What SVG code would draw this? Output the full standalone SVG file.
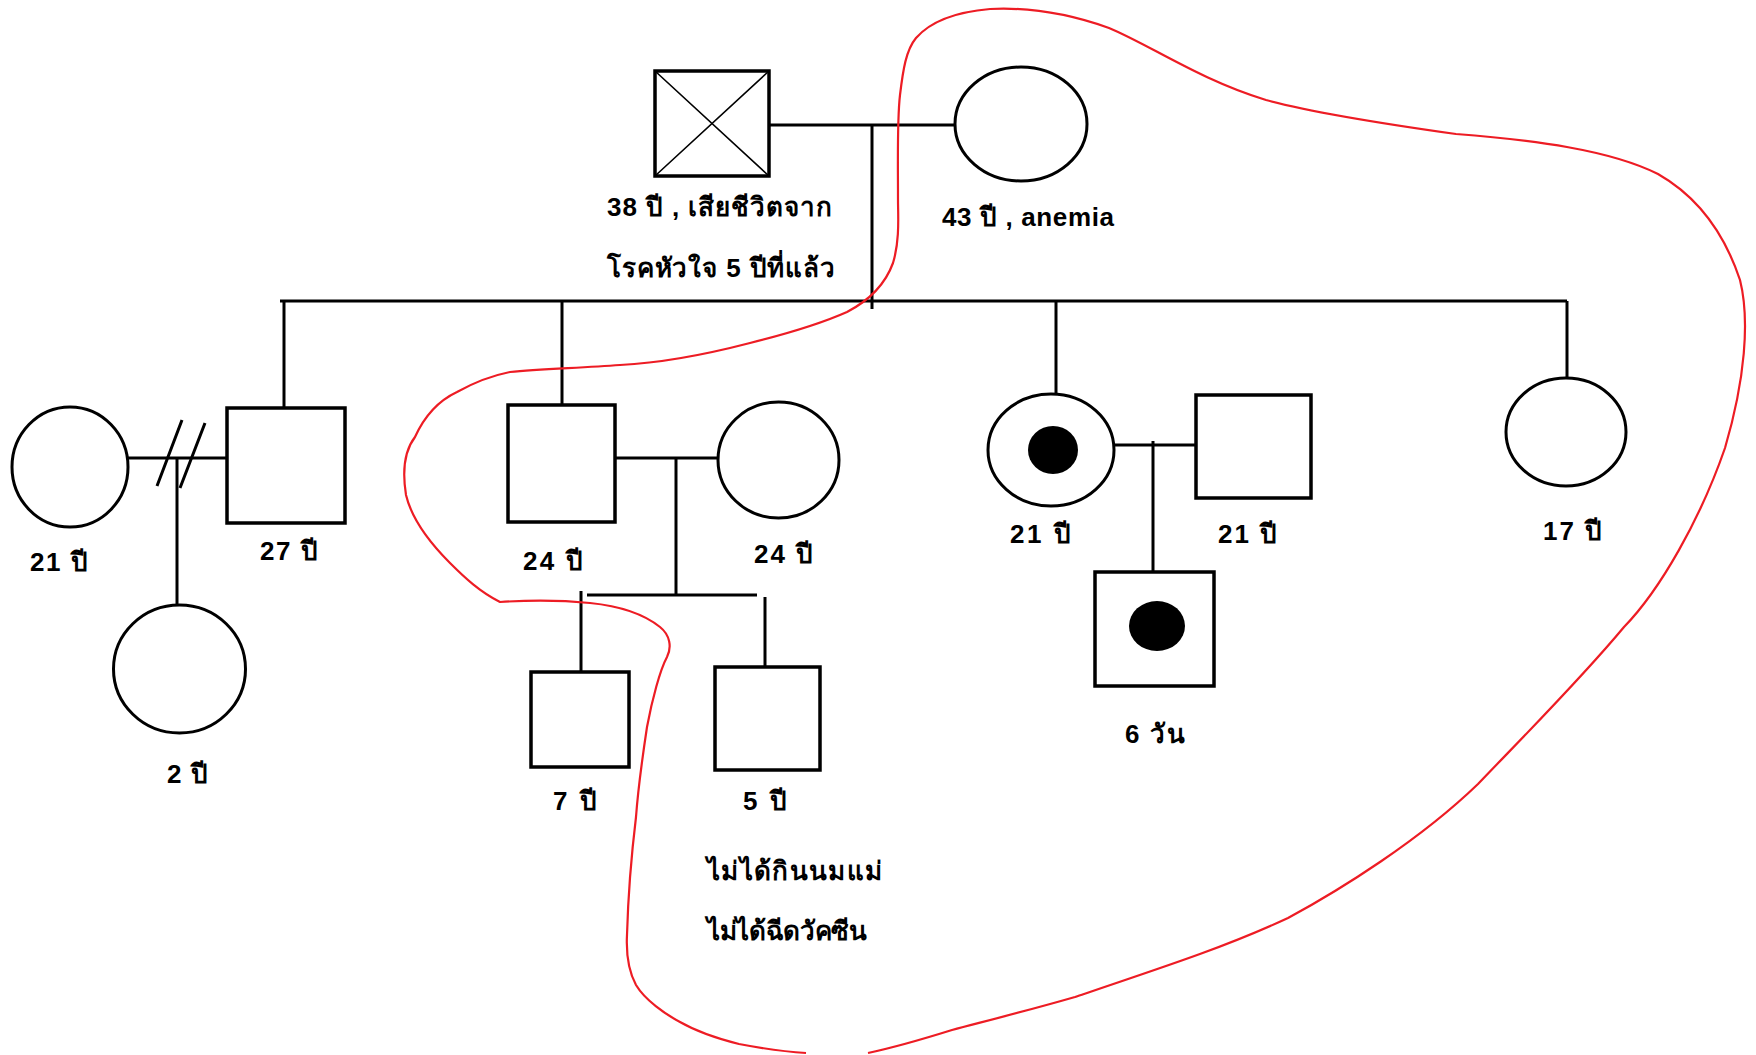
<svg xmlns="http://www.w3.org/2000/svg" width="1756" height="1055" viewBox="0 0 1756 1055">
<style>
.ln{stroke:#000;stroke-width:3;fill:none}
.sq{stroke:#000;stroke-width:3.5;fill:#fff}
.ci{stroke:#000;stroke-width:3;fill:#fff}
.dot{fill:#000}
.t{font-family:"Liberation Sans","Noto Sans","DejaVu Sans",sans-serif;font-size:26px;font-weight:bold;fill:#000}
.red{stroke:#ed1c24;stroke-width:2.2;fill:none}
</style>
<rect width="1756" height="1055" fill="#fff"/>
<g id="connectors">
<path class="ln" d="M769 125H955"/>
<path class="ln" d="M872 125V309"/>
<path class="ln" d="M280 301H1567"/>
<path class="ln" d="M284 301V408"/>
<path class="ln" d="M562 301V405"/>
<path class="ln" d="M1056 301V403"/>
<path class="ln" d="M1567 301V386"/>
<path class="ln" d="M128 458H227"/>
<path class="ln" d="M157 486L182 420M180 488L205 423"/>
<path class="ln" d="M177 458V613"/>
<path class="ln" d="M615 458H718"/>
<path class="ln" d="M676 458V595"/>
<path class="ln" d="M587 595H757"/>
<path class="ln" d="M581 591V672"/>
<path class="ln" d="M765 597V667"/>
<path class="ln" d="M1115 445H1200"/>
<path class="ln" d="M1153 441V572"/>
</g>
<g id="father">
<rect class="sq" x="655" y="71" width="114" height="105"/>
<path d="M655 71L769 176M769 71L655 176" stroke="#000" stroke-width="1.6"/>
<text class="t" x="607" y="216" textLength="225">38 ปี , เสียชีวิตจาก</text>
<text class="t" x="607" y="277" textLength="228">โรคหัวใจ 5 ปีที่แล้ว</text>
</g>
<g id="mother">
<ellipse class="ci" cx="1021" cy="124" rx="66" ry="57"/>
<text class="t" x="942" y="226" textLength="172">43 ปี , anemia</text>
</g>
<g id="exwife">
<ellipse class="ci" cx="70" cy="467" rx="58" ry="60"/>
<text class="t" x="30" y="571" textLength="58">21 ปี</text>
</g>
<g id="son27">
<rect class="sq" x="227" y="408" width="118" height="115"/>
<text class="t" x="260" y="560" textLength="58">27 ปี</text>
</g>
<g id="daughter2">
<ellipse class="ci" cx="179.5" cy="669" rx="66" ry="64"/>
<text class="t" x="167" y="783" textLength="41">2 ปี</text>
</g>
<g id="son24">
<rect class="sq" x="508" y="405" width="107" height="117"/>
<text class="t" x="523" y="570" textLength="60">24 ปี</text>
</g>
<g id="wife24">
<ellipse class="ci" cx="778.5" cy="460" rx="60.5" ry="58"/>
<text class="t" x="754" y="563" textLength="59">24 ปี</text>
</g>
<g id="son7">
<rect class="sq" x="531" y="672" width="98" height="95"/>
<text class="t" x="553" y="810" textLength="44">7 ปี</text>
</g>
<g id="son5">
<rect class="sq" x="715" y="667" width="105" height="103"/>
<text class="t" x="743" y="810" textLength="44">5 ปี</text>
<text class="t" x="707" y="880" textLength="175">ไม่ได้กินนมแม่</text>
<text class="t" x="707" y="940" textLength="160">ไม่ได้ฉีดวัคซีน</text>
</g>
<g id="daughter21">
<ellipse class="ci" cx="1051" cy="450" rx="63" ry="56"/>
<ellipse class="dot" cx="1053" cy="450" rx="25" ry="24"/>
<text class="t" x="1010" y="543" textLength="61">21 ปี</text>
</g>
<g id="husband21">
<rect class="sq" x="1196" y="395" width="115" height="103"/>
<text class="t" x="1218" y="543" textLength="59">21 ปี</text>
</g>
<g id="baby">
<rect class="sq" x="1095" y="572" width="119" height="114"/>
<ellipse class="dot" cx="1157" cy="626" rx="28" ry="25"/>
<text class="t" x="1125" y="743" textLength="60">6 วัน</text>
</g>
<g id="daughter17">
<ellipse class="ci" cx="1566" cy="432" rx="60" ry="54"/>
<text class="t" x="1543" y="540" textLength="59">17 ปี</text>
</g>
<g id="highlight">
<path class="red" d="M806 1053 C790 1052 760 1048 739 1044 C715 1038 694 1030 680 1022 C665 1014 645 1000 636 985 C628 970 626 955 627 935 C628 900 632 850 636 817 C638 790 642 760 647 727 C652 700 660 670 667 657 C672 647 670 635 660 627 C645 615 620 606 590 603 C560 600 530 600 500 602 C480 592 465 578 450 563 C430 543 412 520 406 495 C402 470 405 450 415 437 C425 415 440 400 457 392 C475 382 490 376 510 372 C540 369 580 368 620 365 C660 363 700 356 750 343 C790 333 820 324 847 312 C870 300 885 285 893 263 C900 240 898 215 898 200 C898 160 897 120 900 95 C903 70 906 50 916 38 C930 22 955 12 990 9 C1030 7 1070 14 1109 28 C1150 45 1200 80 1266 100 C1310 112 1378 123 1456 134 C1534 140 1610 150 1658 174 C1700 198 1725 235 1740 280 C1750 320 1745 380 1725 448 C1700 520 1660 590 1624 627 C1580 680 1520 740 1478 784 C1420 840 1340 890 1288 918 C1230 945 1176 963 1075 997 C1030 1010 990 1020 952 1030 C920 1040 896 1047 868 1053"/>
</g>
</svg>
